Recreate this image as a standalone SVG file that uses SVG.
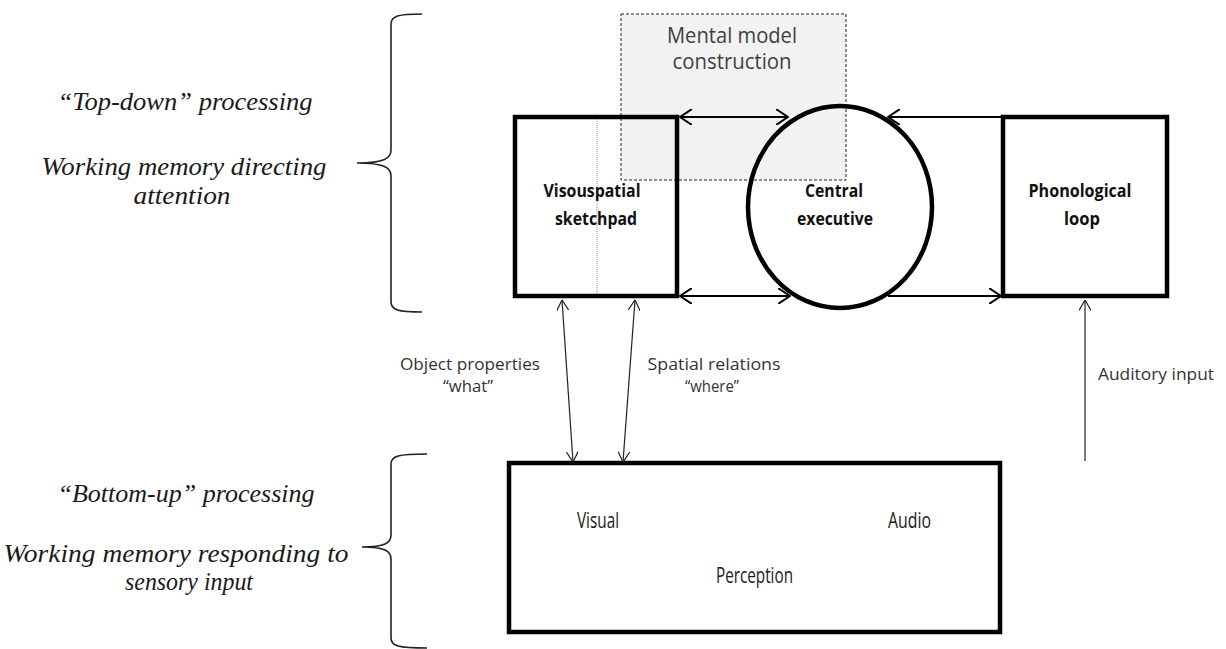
<svg xmlns="http://www.w3.org/2000/svg" width="1226" height="649" viewBox="0 0 1226 649">
<style>
.it{font-family:"Liberation Serif","Times New Roman",serif;font-style:italic;font-size:26px;fill:#1a1a1a}
.lb{font-family:"Open Sans","Liberation Sans",sans-serif;font-size:17px;fill:#333}
.bd{font-family:"Open Sans","Liberation Sans",sans-serif;font-weight:bold;font-size:17px;fill:#111}
.pc{font-family:"Open Sans","Liberation Sans",sans-serif;font-size:21px;fill:#1a1a1a}
.box{fill:none;stroke:#000;stroke-width:4.5}
.thick{fill:none;stroke:#000;stroke-width:2}
.thin{fill:none;stroke:#222;stroke-width:1.2}
.brace{fill:none;stroke:#222;stroke-width:1.6}
</style>
<defs>
<marker id="ah" viewBox="0 0 13 16" refX="12" refY="8" markerWidth="13" markerHeight="16" orient="auto-start-reverse" markerUnits="userSpaceOnUse">
<path d="M0,0 L12,8 L0,16" fill="none" stroke="#000" stroke-width="2"/>
</marker>
<marker id="ahs" viewBox="0 0 11 12" refX="10.5" refY="6" markerWidth="11" markerHeight="12" orient="auto-start-reverse" markerUnits="userSpaceOnUse">
<path d="M0,0 L10.5,6 L0,12" fill="none" stroke="#222" stroke-width="1.2"/>
</marker>
</defs>

<g id="braces">
<path class="brace" d="M422,14 C398,14 391,16 391,24 L391,150 C391,158 385,163 357,163 C385,163 391,168 391,176 L391,302 C391,310 398,312 422,312"/>
<path class="brace" d="M427,454 C398,454 391,456 391,464 L391,535 C391,543 385,547 362,547 C385,547 391,551 391,559 L391,638 C391,646 398,648 427,648"/>
</g>

<g id="left-labels">
<text class="it" x="185" y="110" text-anchor="middle" textLength="255" lengthAdjust="spacingAndGlyphs">“Top-down” processing</text>
<text class="it" x="184" y="175" text-anchor="middle" textLength="285" lengthAdjust="spacingAndGlyphs">Working memory directing</text>
<text class="it" x="182" y="204" text-anchor="middle" textLength="97" lengthAdjust="spacingAndGlyphs">attention</text>
<text class="it" x="186" y="502" text-anchor="middle" textLength="257" lengthAdjust="spacingAndGlyphs">“Bottom-up” processing</text>
<text class="it" x="176" y="562" text-anchor="middle" textLength="345" lengthAdjust="spacingAndGlyphs">Working memory responding to</text>
<text class="it" x="189" y="590" text-anchor="middle" textLength="128" lengthAdjust="spacingAndGlyphs">sensory input</text>
</g>

<g id="mental-model">
<rect x="621" y="14" width="225" height="166" fill="#f2f2f2" stroke="#222" stroke-width="1" stroke-dasharray="3,2"/>
<text class="pc" x="732" y="43" text-anchor="middle" style="fill:#404040" textLength="130" lengthAdjust="spacingAndGlyphs">Mental model</text>
<text class="pc" x="732" y="69" text-anchor="middle" style="fill:#404040" textLength="119" lengthAdjust="spacingAndGlyphs">construction</text>
</g>

<g id="visuospatial">
<rect class="box" x="515" y="117" width="162" height="179"/>
<line x1="597" y1="119" x2="597" y2="294" stroke="#888" stroke-width="1" stroke-dasharray="1,1"/>
<text class="bd" x="592" y="197" text-anchor="middle" textLength="97" lengthAdjust="spacingAndGlyphs">Visouspatial</text>
<text class="bd" x="596" y="225" text-anchor="middle" textLength="82" lengthAdjust="spacingAndGlyphs">sketchpad</text>
</g>

<g id="central-executive">
<ellipse class="box" cx="840" cy="207" rx="92" ry="101"/>
<text class="bd" x="834" y="197" text-anchor="middle" textLength="58" lengthAdjust="spacingAndGlyphs">Central</text>
<text class="bd" x="835" y="225" text-anchor="middle" textLength="76" lengthAdjust="spacingAndGlyphs">executive</text>
</g>

<g id="phonological">
<rect class="box" x="1003" y="117" width="164" height="179"/>
<text class="bd" x="1080" y="197" text-anchor="middle" textLength="103" lengthAdjust="spacingAndGlyphs">Phonological</text>
<text class="bd" x="1082" y="225" text-anchor="middle" textLength="36" lengthAdjust="spacingAndGlyphs">loop</text>
</g>

<g id="perception">
<rect class="box" x="509" y="463" width="491" height="169" stroke-width="4"/>
<text class="pc" x="577" y="528" textLength="42" lengthAdjust="spacingAndGlyphs">Visual</text>
<text class="pc" x="888" y="528" textLength="43" lengthAdjust="spacingAndGlyphs">Audio</text>
<text class="pc" x="716" y="583" textLength="77" lengthAdjust="spacingAndGlyphs">Perception</text>
</g>

<g id="connectors">
<line class="thick" x1="680" y1="117" x2="788" y2="117" marker-start="url(#ah)" marker-end="url(#ah)"/>
<line class="thick" x1="1001" y1="117" x2="888" y2="117" marker-end="url(#ah)"/>
<line class="thick" x1="680" y1="296" x2="790" y2="296" marker-start="url(#ah)" marker-end="url(#ah)"/>
<line class="thick" x1="888" y1="296" x2="1001" y2="296" marker-end="url(#ah)"/>
<line class="thin" x1="562" y1="300" x2="573" y2="462" marker-start="url(#ahs)" marker-end="url(#ahs)"/>
<line class="thin" x1="635" y1="300" x2="623" y2="462" marker-start="url(#ahs)" marker-end="url(#ahs)"/>
<line class="thin" x1="1085" y1="461" x2="1085" y2="300" marker-end="url(#ahs)"/>
</g>

<g id="connector-labels">
<text class="lb" x="470" y="370" text-anchor="middle" textLength="140" lengthAdjust="spacingAndGlyphs">Object properties</text>
<text class="lb" x="468" y="392" text-anchor="middle" textLength="50" lengthAdjust="spacingAndGlyphs">“what”</text>
<text class="lb" x="714" y="370" text-anchor="middle" textLength="133" lengthAdjust="spacingAndGlyphs">Spatial relations</text>
<text class="lb" x="712" y="392" text-anchor="middle" textLength="54" lengthAdjust="spacingAndGlyphs">“where”</text>
<text class="lb" x="1098" y="380" textLength="116" lengthAdjust="spacingAndGlyphs">Auditory input</text>
</g>
</svg>
